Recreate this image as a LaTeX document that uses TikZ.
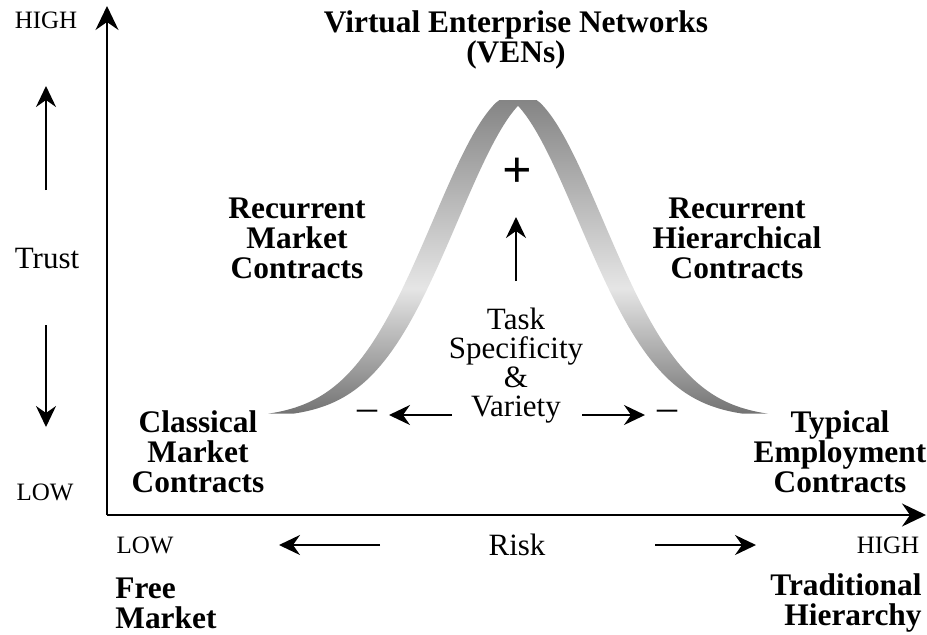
\documentclass[tikz,border=0pt]{standalone}
\usepackage{fontspec}
\setmainfont{Liberation Serif}
\usetikzlibrary{arrows.meta}

% light in the lower middle, darker at top and bottom
\pgfdeclareverticalshading{bandshade}{100bp}{color(0bp)=(black!55); color(25bp)=(black!55);
  color(45bp)=(black!10); color(75bp)=(black!48); color(100bp)=(black!48)}

\begin{document}
\begin{tikzpicture}[x=.5pt, y=-.5pt,
  lbl/.style={font=\bfseries\fontsize{15.7}{15}\selectfont, align=center, inner sep=0pt},
  txt/.style={font=\fontsize{15.5}{14.5}\selectfont, align=center, inner sep=0pt},
  small/.style={font=\fontsize{12.5}{12.5}\selectfont, inner sep=0pt},
  minus/.style={font=\fontsize{20}{20}\selectfont, inner sep=0pt},
  arr/.style={line width=.9pt, -{Stealth[length=10.5pt, width=10pt, inset=3.5pt]}},
  axis/.style={line width=1pt, -{Stealth[length=12pt, width=11.5pt, inset=4pt]}}]
		\useasboundingbox (0,0) rectangle (927,634);
		
		% the bell shaped band, flat on top
		\shade[shading=bandshade]
		  plot[domain=-250:250, samples=150] ({518+\x},{max(100,418-326*exp(-(\x/85)*(\x/85)/2))})
		  -- plot[domain=225:0, samples=60] ({518+\x},{418-326*exp(-((\x+25)/85)*((\x+25)/85)/2)})
		  -- plot[domain=0:225, samples=60] ({518-\x},{418-326*exp(-((\x+25)/85)*((\x+25)/85)/2)})
		  -- cycle;
		
		% axes
		\coordinate (O) at (107,515);
		\coordinate (ytop) at (107,6);
		\coordinate (xend) at (926,515);
		\draw [axis] (O) -- (ytop);
		\draw [axis] (O) -- (xend);
		
		% trust
		\node (yhigh) at (46,20) [small] {HIGH};
		\node (trust) at (47,258) [txt] {Trust};
		\node (ylow) at (45,492) [small] {LOW};
		\coordinate (tu1) at (46,190);
		\coordinate (tu2) at (46,86);
		\coordinate (td1) at (46,325);
		\coordinate (td2) at (46,427);
		\draw [arr] (tu1) -- (tu2);
		\draw [arr] (td1) -- (td2);
		
		% risk
		\node (xlow) at (145,545) [small] {LOW};
		\node (risk) at (517,545) [txt] {Risk};
		\node (xhigh) at (888,545) [small] {HIGH};
		\coordinate (rl1) at (380,545);
		\coordinate (rl2) at (279,545);
		\coordinate (rr1) at (655,545);
		\coordinate (rr2) at (756,545);
		\draw [arr] (rl1) -- (rl2);
		\draw [arr] (rr1) -- (rr2);
		
		\node (free) at (115,603) [lbl, anchor=west, align=left] {Free\\Market};
		\node (trad) at (922,603) [lbl, anchor=east, align=right] {Traditional\\Hierarchy};
		
		% contract types
		\node (ven) at (516,40) [lbl] {Virtual Enterprise Networks\\(VENs)};
		\node (rmc) at (297,238) [lbl] {Recurrent\\Market\\Contracts};
		\node (rhc) at (737,238) [lbl] {Recurrent\\Hierarchical\\Contracts};
		\node (cmc) at (198,452) [lbl] {Classical\\Market\\Contracts};
		\node (tec) at (840,452) [lbl] {Typical\\Employment\\Contracts};
		
		% task specificity
		\node (plus) at (517,173) [font=\bfseries\fontsize{26}{26}\selectfont, inner sep=0pt] {+};
		\node (task) at (516,366) [txt] {Task\\Specificity\\\&\\Variety};
		\coordinate (tk1) at (516,281);
		\coordinate (tk2) at (516,217);
		\draw [arr] (tk1) -- (tk2);
		\node (ml) at (367,415) [minus] {–};
		\node (mr) at (667,415) [minus] {–};
		\coordinate (vl1) at (452,415);
		\coordinate (vl2) at (389,415);
		\coordinate (vr1) at (582,415);
		\coordinate (vr2) at (645,415);
		\draw [arr] (vl1) -- (vl2);
		\draw [arr] (vr1) -- (vr2);
\end{tikzpicture}
\end{document}
